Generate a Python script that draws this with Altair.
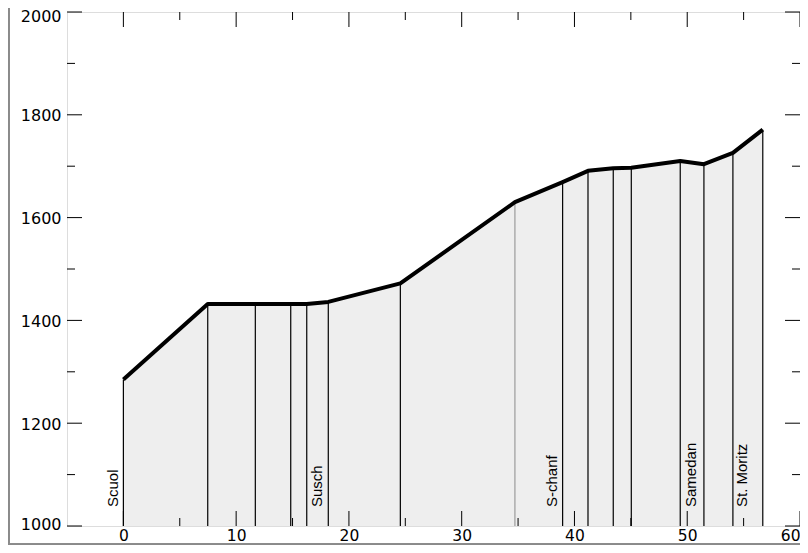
import altair as alt
import pandas as pd

# Profile points (km along route, elevation m)
distance = [0, 7.48, 11.70, 14.84, 16.26, 18.17, 24.56, 34.72, 38.95, 41.2,
            43.44, 45.04, 49.38, 51.48, 54.05, 56.7]
elevation = [1285, 1432, 1432, 1432, 1432, 1436, 1472, 1630, 1669, 1691,
             1696, 1697, 1710, 1704, 1726, 1771]
line_shade = ["black"] * 7 + ["gray"] + ["black"] * 8

towns = ["Scuol", "Susch", "S-chanf", "Samedan", "St. Moritz"]
town_x = [-0.9, 17.15, 38.0, 50.3, 54.9]
town_y = [1037, 1037, 1037, 1037, 1037]

x_major = [0, 10, 20, 30, 40, 50, 60]
x_minor = [5, 15, 25, 35, 45, 55]
y_major = [1000, 1200, 1400, 1600, 1800, 2000]
y_minor = [1100, 1300, 1500, 1700, 1900]

W, H = 733, 514
FONT = "Liberation Sans"
TICKFONT = "DejaVu Sans"

prof = pd.DataFrame({"d": distance, "e": elevation, "shade": line_shade})
tdf = pd.DataFrame({"town": towns, "d": town_x, "e": town_y})
xmaj = pd.DataFrame({"v": x_major})
xmin = pd.DataFrame({"v": x_minor})
ymaj = pd.DataFrame({"v": y_major})
ymin = pd.DataFrame({"v": y_minor})

xs = alt.Scale(domain=[-5, 60], nice=False, zero=False)
ys = alt.Scale(domain=[1000, 2000], nice=False, zero=False)

xaxis = alt.Axis(values=x_major, ticks=False, domain=False, grid=False, title=None,
                 format="d", labelFontSize=15.5, labelFont=TICKFONT, labelColor="black",
                 labelPadding=2, labelFlush=True)
yaxis = alt.Axis(values=y_major, ticks=False, domain=False, grid=False, title=None,
                 format="d", labelFontSize=16, labelFont=TICKFONT, labelColor="black",
                 labelPadding=6, labelFlush=True, labelFlushOffset=5, labelOffset=1)

area = alt.Chart(prof).mark_area(color="#eeeeee", opacity=1).encode(
    x=alt.X("d:Q", scale=xs, axis=xaxis),
    y=alt.Y("e:Q", scale=ys, axis=yaxis),
    y2=alt.datum(1000),
)

vlines = alt.Chart(prof).mark_rule(strokeWidth=1.2).encode(
    x=alt.X("d:Q", scale=xs),
    y=alt.Y("e:Q", scale=ys),
    y2=alt.datum(1000),
    color=alt.Color("shade:N", scale=alt.Scale(domain=["black", "gray"], range=["#000000", "#9a9a9a"]), legend=None),
)

profile = alt.Chart(prof).mark_line(color="black", strokeWidth=4, strokeJoin="round").encode(
    x=alt.X("d:Q", scale=xs),
    y=alt.Y("e:Q", scale=ys),
)

labels = alt.Chart(tdf).mark_text(angle=270, align="left", baseline="middle",
                                  fontSize=15, font=FONT, color="black").encode(
    x=alt.X("d:Q", scale=xs),
    y=alt.Y("e:Q", scale=ys),
    text="town:N",
)

def xticks(df, length):
    b = alt.Chart(df).mark_rule(color="black", strokeWidth=1).encode(
        x=alt.X("v:Q", scale=xs), y=alt.value(H), y2=alt.value(H - length))
    t = alt.Chart(df).mark_rule(color="black", strokeWidth=1).encode(
        x=alt.X("v:Q", scale=xs), y=alt.value(0), y2=alt.value(length))
    return b + t

def yticks(df, length):
    l = alt.Chart(df).mark_rule(color="black", strokeWidth=1).encode(
        y=alt.Y("v:Q", scale=ys), x=alt.value(0), x2=alt.value(length))
    r = alt.Chart(df).mark_rule(color="black", strokeWidth=1).encode(
        y=alt.Y("v:Q", scale=ys), x=alt.value(W), x2=alt.value(W - length))
    return l + r

border_left = alt.Chart(prof).mark_rule(color="#8a8a8a", strokeWidth=1.5).encode(
    x=alt.value(-58.5), y=alt.value(-4), y2=alt.value(532.5))
border_bottom = alt.Chart(prof).mark_rule(color="#8a8a8a", strokeWidth=1.5).encode(
    x=alt.value(-59), x2=alt.value(W), y=alt.value(532.5))

chart = alt.layer(
    area, vlines, profile, labels,
    xticks(xmaj, 15), xticks(xmin, 8), yticks(ymaj, 15), yticks(ymin, 8),
    border_left, border_bottom,
).properties(
    width=W, height=H,
    autosize=alt.AutoSizeParams(type="none"),
    padding={"left": 59, "top": 4, "right": 0, "bottom": 19},
).configure_view(stroke="black", strokeWidth=1.3).configure(background="white")

chart.save("out.html", embed_options={"renderer": "svg", "actions": False})
